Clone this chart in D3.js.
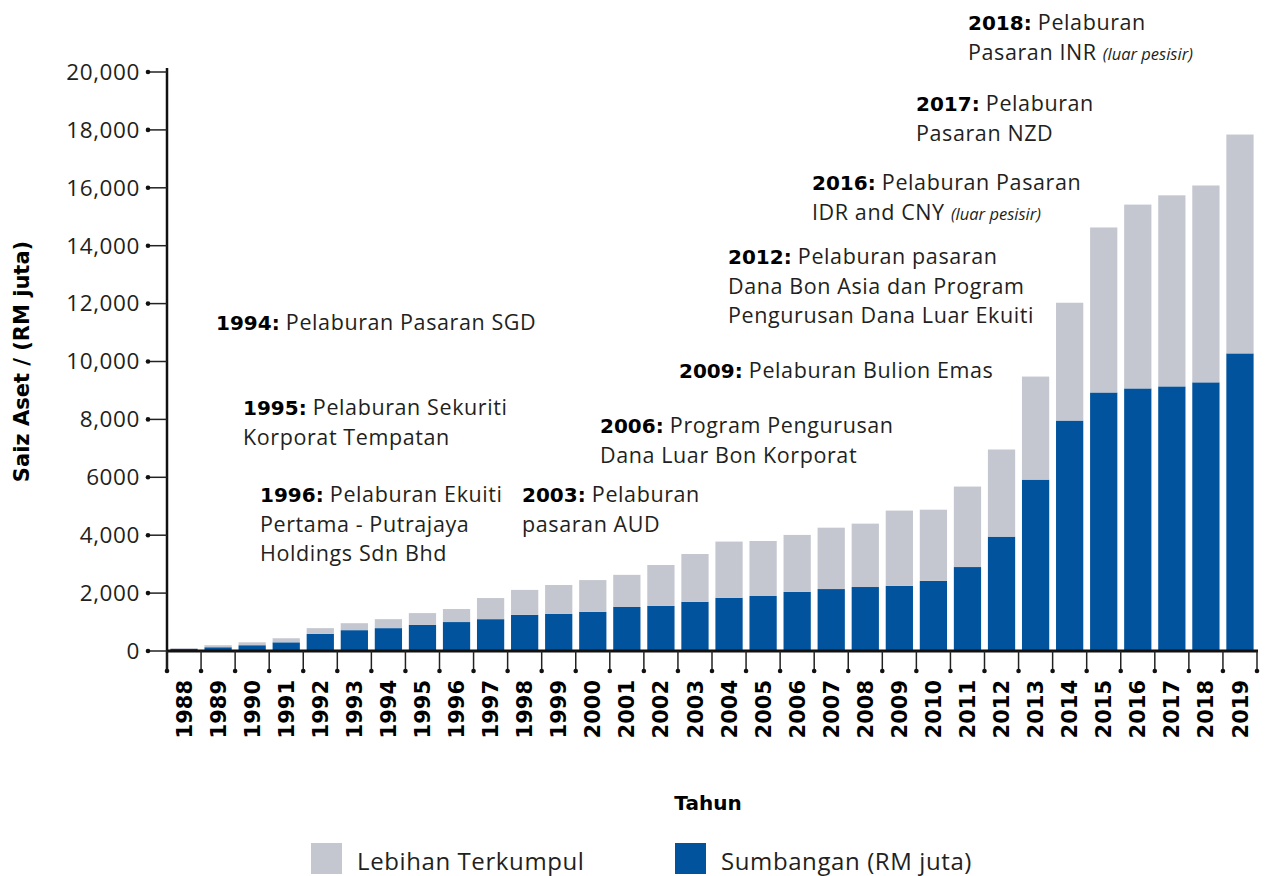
<!DOCTYPE html>
<html>
<head>
<meta charset="utf-8">
<script src="https://cdn.jsdelivr.net/npm/d3@7"></script>
<style>
  body { margin: 0; background: #fff; }
  svg { display: block; }
  .reg { font-family: "Open Sans", sans-serif; fill: #231f20; }
  .bold { font-family: "DejaVu Sans", sans-serif; font-weight: bold; fill: #000; letter-spacing: 0; }
</style>
</head>
<body>
<svg width="1266" height="876"></svg>
<script>
// data (RM juta)
let years = ["1988","1989","1990","1991","1992","1993","1994","1995","1996","1997","1998","1999","2000","2001","2002","2003","2004","2005","2006","2007","2008","2009","2010","2011","2012","2013","2014","2015","2016","2017","2018","2019"];
let sumbangan = [70,130,200,300,590,720,790,900,1000,1100,1250,1280,1350,1520,1560,1700,1840,1900,2040,2140,2210,2250,2420,2900,3950,5920,7960,8930,9070,9140,9280,10280];
let lebihan = [30,70,100,140,200,240,310,410,450,730,860,1000,1100,1110,1410,1650,1940,1900,1970,2120,2190,2600,2460,2780,3010,3560,4070,5700,6350,6600,6800,7560];
let yTicks = [0,2000,4000,6000,8000,10000,12000,14000,16000,18000,20000];
let yTickLabels = ["0","2,000","4,000","6000","8,000","10,000","12,000","14,000","16,000","18,000","20,000"];
let seriesNames = ["Lebihan Terkumpul", "Sumbangan (RM juta)"];

// milestone notes: bold year, lines, optional italic suffix on the last line
let notes = [
    { year: "2018:", lines: [" Pelaburan", "Pasaran INR "], it: "(luar pesisir)", x: 968, y: 30 },
    { year: "2017:", lines: [" Pelaburan", "Pasaran NZD"], x: 916, y: 111 },
    { year: "2016:", lines: [" Pelaburan Pasaran", "IDR and CNY "], it: "(luar pesisir)", x: 812, y: 190 },
    { year: "2012:", lines: [" Pelaburan pasaran", "Dana Bon Asia dan Program", "Pengurusan Dana Luar Ekuiti"], x: 728, y: 264 },
    { year: "2009:", lines: [" Pelaburan Bulion Emas"], x: 679, y: 378 },
    { year: "2006:", lines: [" Program Pengurusan", "Dana Luar Bon Korporat"], x: 600, y: 433 },
    { year: "2003:", lines: [" Pelaburan", "pasaran AUD"], x: 522, y: 502 },
    { year: "1996:", lines: [" Pelaburan Ekuiti", "Pertama - Putrajaya", "Holdings Sdn Bhd"], x: 260, y: 502 },
    { year: "1995:", lines: [" Pelaburan Sekuriti", "Korporat Tempatan"], x: 243, y: 415 },
    { year: "1994:", lines: [" Pelaburan Pasaran SGD"], x: 216, y: 330 }
];

let blue = "#01539d", grey = "#c5c7d0";

let margin = {top: 72, left: 167, right: 9, bottom: 225},
    width = 1266 - margin.left - margin.right,
    height = 876 - margin.top - margin.bottom;

let svg = d3.select("svg");
let g = svg.append("g").attr("transform", "translate(" + margin.left + "," + margin.top + ")");

let x = d3.scaleBand().domain(years).range([0, width]).paddingInner(0.2).paddingOuter(0.1);
let y = d3.scaleLinear().domain([0, 20000]).range([height, 0]);

let rows = years.map(function(d, i) {
    return { year: d, sumbangan: sumbangan[i], lebihan: lebihan[i] };
});
let stack = d3.stack().keys(["sumbangan", "lebihan"])(rows);
let colors = { sumbangan: blue, lebihan: grey };

g.selectAll(".layer").data(stack).enter().append("g")
    .attr("fill", function(d) { return colors[d.key]; })
    .selectAll("rect").data(function(d) { return d; }).enter().append("rect")
    .attr("x", function(d) { return x(d.data.year); })
    .attr("width", x.bandwidth())
    .attr("y", function(d) { return y(d[1]); })
    .attr("height", function(d) { return y(d[0]) - y(d[1]); });

// y axis
let tickLen = 19;
g.append("line").attr("x1", 0).attr("x2", 0).attr("y1", -4).attr("y2", height + 20)
    .attr("stroke", "#111").attr("stroke-width", 2.5);
let yt = g.selectAll(".ytick").data(yTicks).enter().append("g")
    .attr("transform", function(d) { return "translate(0," + y(d) + ")"; });
yt.append("line").attr("x1", -tickLen).attr("x2", 0).attr("stroke", "#222").attr("stroke-width", 1.5);
yt.append("circle").attr("cx", -tickLen).attr("r", 2.3).attr("fill", "#111");
yt.append("text").attr("class", "reg").attr("x", -tickLen - 8).attr("dy", "0.35em")
    .attr("text-anchor", "end").style("font-size", "22.5px").style("letter-spacing", "0.6px")
    .text(function(d, i) { return yTickLabels[i]; });

// x axis
g.append("line").attr("x1", 0).attr("x2", width + 1).attr("y1", height).attr("y2", height)
    .attr("stroke", "#111").attr("stroke-width", 3);
let step = x.step();
let bounds = years.map(function(d) { return x(d) - x.paddingInner() * step / 2; });
bounds.push(width);
bounds[0] = 0;
let xt = g.selectAll(".xtick").data(bounds).enter().append("g")
    .attr("transform", function(d) { return "translate(" + d + "," + height + ")"; });
xt.append("line").attr("y1", 0).attr("y2", 20).attr("stroke", "#222").attr("stroke-width", 1.5);
xt.append("circle").attr("cy", 20).attr("r", 2.3).attr("fill", "#111");

g.selectAll(".xlab").data(years).enter().append("text")
    .attr("class", "bold")
    .attr("transform", function(d) { return "translate(" + (x(d) + x.bandwidth() / 2) + "," + (height + 29) + ") rotate(-90)"; })
    .attr("text-anchor", "end").attr("dy", "0.36em")
    .style("font-size", "21px")
    .text(function(d) { return d; });

// axis titles
svg.append("text").attr("class", "bold")
    .attr("transform", "translate(29," + (margin.top + height / 2 + 0) + ") rotate(-90)")
    .attr("text-anchor", "middle").style("font-size", "21px")
    .text("Saiz Aset / (RM juta)");
svg.append("text").attr("class", "bold")
    .attr("x", margin.left + width / 2 - 4).attr("y", 810)
    .attr("text-anchor", "middle").style("font-size", "20px")
    .text("Tahun");

// notes
let lineH = 29.5;
notes.forEach(function(n) {
    n.lines.forEach(function(line, i) {
        let t = svg.append("text").attr("class", "reg").attr("x", n.x).attr("y", n.y + i * lineH)
            .style("font-size", "21.5px").style("letter-spacing", "0.6px");
        if (i == 0) {
            t.append("tspan").attr("class", "bold").style("font-size", "20px").text(n.year);
        }
        t.append("tspan").text(line);
        if (i == n.lines.length - 1 && n.it) {
            t.append("tspan").style("font-style", "italic").style("font-size", "16.5px")
                .style("letter-spacing", "0").text(n.it);
        }
    });
});

// legend
let legend = svg.selectAll(".leg").data(seriesNames).enter().append("g")
    .attr("transform", function(d, i) { return "translate(" + (i == 0 ? 311 : 675) + ",843)"; });
legend.append("rect").attr("width", 31).attr("height", 31)
    .attr("fill", function(d, i) { return i == 0 ? grey : blue; });
legend.append("text").attr("class", "reg").attr("x", 46).attr("y", 27)
    .style("font-size", "24px").style("letter-spacing", "0.6px")
    .text(function(d) { return d; });
</script>
</body>
</html>
